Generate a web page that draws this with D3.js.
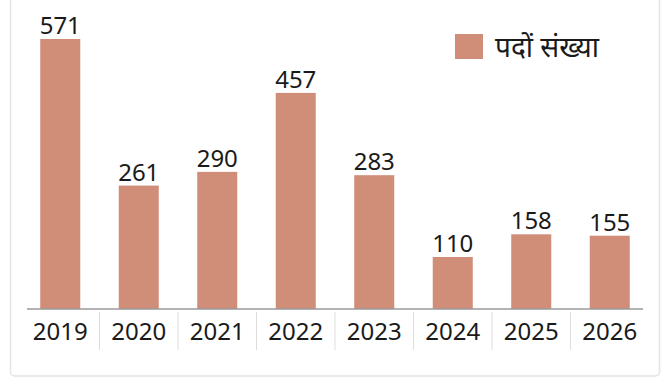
<!DOCTYPE html>
<html><head><meta charset="utf-8">
<script src="https://cdn.jsdelivr.net/npm/d3@7/dist/d3.min.js"></script>
<style>html,body{margin:0;padding:0;background:#fff;}svg{display:block;}</style>
</head><body>
<svg id="c" width="672" height="377"></svg>
<script>
const categories = ["2019","2020","2021","2022","2023","2024","2025","2026"];
const values = [571,261,290,457,283,110,158,155];
const seriesName = "पदों संख्या";

const svg = d3.select("#c");
const baseY = 309;
const font = "'Noto Sans','Open Sans',sans-serif";
const barColor = "#d08d78";

// card border
svg.append("rect").attr("x",10.5).attr("y",-10).attr("width",649).attr("height",386)
  .attr("rx",4).attr("fill","#fff").attr("stroke","#e4e4e4").attr("stroke-width",1.5);

const x = d3.scaleBand().domain(categories).range([21,649]).paddingInner(0.49).paddingOuter(0.245);
const y = d3.scaleLinear().domain([0,571]).range([baseY, 39]);

svg.selectAll("rect.bar").data(values).enter().append("rect")
  .attr("class","bar")
  .attr("x",(d,i)=>x(categories[i]))
  .attr("width",x.bandwidth())
  .attr("y",d=>y(d))
  .attr("height",d=>baseY-y(d))
  .attr("fill",barColor);

svg.selectAll("text.val").data(values).enter().append("text")
  .attr("class","val")
  .attr("x",(d,i)=>x(categories[i])+x.bandwidth()/2)
  .attr("y",d=>y(d)-5)
  .attr("text-anchor","middle")
  .attr("font-family",font).attr("font-size",24).attr("fill","#1a1a1a")
  .text(d=>d);

// axis
const axis = d3.axisBottom(x).tickSize(0).tickPadding(14);
const g = svg.append("g").attr("transform",`translate(0,${baseY})`).call(axis);
g.select(".domain").remove();
g.selectAll("text").attr("font-family",font).attr("font-size",24).attr("fill","#1a1a1a");
svg.append("line").attr("x1",27).attr("x2",643).attr("y1",baseY).attr("y2",baseY)
  .attr("stroke","#9a9a9a").attr("stroke-width",1.5);

// separators at band boundaries
const gap = (x.step() - x.bandwidth())/2;
svg.selectAll("line.sep").data(categories.slice(1)).enter().append("line")
  .attr("class","sep")
  .attr("x1",d=>x(d)-gap).attr("x2",d=>x(d)-gap)
  .attr("y1",312).attr("y2",350)
  .attr("stroke","#dddddd").attr("stroke-width",1);

// legend
const lg = svg.append("g");
lg.append("rect").attr("x",455).attr("y",34).attr("width",28).attr("height",25).attr("fill",barColor);
lg.append("text").attr("x",495).attr("y",57).attr("font-family",font).attr("font-size",28)
  .attr("fill","#1a1a1a").text(seriesName);
</script>
</body></html>
